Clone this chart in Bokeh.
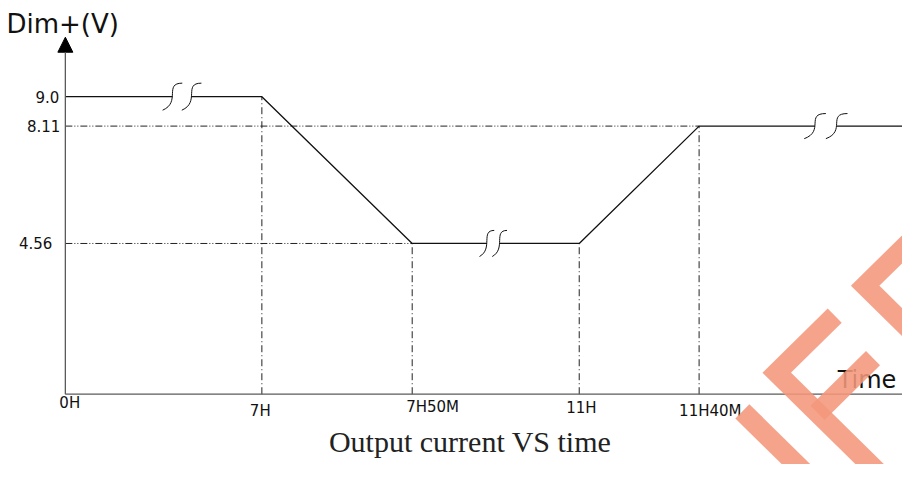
import numpy as np
from bokeh.plotting import figure
from bokeh.models import Range1d, Label, Arrow, NormalHead, ColumnDataSource
from bokeh.embed import file_html
from bokeh.resources import INLINE
from bokeh.core.properties import value

# ---------------- data ----------------
time_labels = ["0H", "7H", "7H50M", "11H", "11H40M"]
time_pos = [0, 200, 353, 523, 645]          # schematic positions on the broken time axis
dim_voltage = [9.0, 9.0, 4.56, 4.56, 8.11]   # Dim+ voltage at each time mark
end_pos = 880                                 # line keeps going past the last mark
volt_ticks = [9.0, 8.11, 4.56]
volt_labels = ["9.0", "8.11", "4.56"]

# ---------------- layout ----------------
W, H = 902, 464            # canvas
REF_W, REF_H = 918, 480    # drawing grid the layout constants refer to
ORIGIN_X = 66.0            # grid x of the origin
Y9 = 99.5                  # grid y of 9.0 V
PX_PER_V = 34.2            # grid px per volt

def rx(gx):  # grid x -> data x
    return gx - ORIGIN_X

def ry(gy):  # grid y -> data y
    return 9.0 - (gy - Y9) / PX_PER_V

p = figure(width=W, height=H, output_backend="svg", toolbar_location=None,
           x_range=Range1d(rx(0), rx(REF_W)),
           y_range=Range1d(ry(REF_H), ry(0)),
           min_border=0)
p.axis.visible = False
p.grid.visible = False
p.outline_line_color = None
p.background_fill_color = "white"
p.border_fill_color = "white"

AXIS_COLOR = "#5a5a5a"
INK = "#111111"

# guides (dash-dot) ------------------------------------------------
hx0, hx1, hy = [], [], []
for v in volt_ticks:
    first = next(t for t, d in zip(time_pos, dim_voltage) if d == v)
    if first > 0:
        hx0.append(0); hx1.append(first); hy.append(v)
p.segment(x0=hx0, y0=hy, x1=hx1, y1=hy, line_color="#222222", line_width=1,
          line_dash="7 2 1 2 1 2")
p.segment(x0=time_pos[1:], y0=[0] * (len(time_pos) - 1), x1=time_pos[1:], y1=dim_voltage[1:],
          line_color="#222222", line_width=1, line_dash="7 3 1 3")

# axes -------------------------------------------------------------
p.segment(x0=[0], y0=[0], x1=[end_pos], y1=[0], line_color=AXIS_COLOR, line_width=1.3)
p.add_layout(Arrow(end=NormalHead(size=15, fill_color="black", line_color="black"),
                   x_start=0, y_start=0, x_end=0, y_end=ry(38),
                   line_color=AXIS_COLOR, line_width=1.3))

# main line with axis breaks --------------------------------------
X = time_pos + [end_pos]
Y = dim_voltage + [dim_voltage[-1]]
breaks = {0: (109, 128.5, 20, 28), 2: (429, 442, 15, 27), 4: (763, 785, 22, 26)}
xs, ys = [], []
cur_x, cur_y = [X[0]], [Y[0]]
bz = dict(x0=[], y0=[], x1=[], y1=[], cx0=[], cy0=[], cx1=[], cy1=[])
for i in range(len(X) - 1):
    if i in breaks:
        bl, br, w, h = breaks[i]
        cur_x.append(bl); cur_y.append(Y[i])
        xs.append(cur_x); ys.append(cur_y)
        cur_x, cur_y = [br], [Y[i]]
        hv = h / PX_PER_V
        for c in (bl, br):
            bz["x0"].append(c - w / 2); bz["y0"].append(Y[i] - hv / 2)
            bz["cx0"].append(c + 0.45 * w); bz["cy0"].append(Y[i] - 0.2 * hv)
            bz["cx1"].append(c - 0.45 * w); bz["cy1"].append(Y[i] + 0.5 * hv)
            bz["x1"].append(c + w / 2); bz["y1"].append(Y[i] + hv / 2)
    cur_x.append(X[i + 1]); cur_y.append(Y[i + 1])
xs.append(cur_x); ys.append(cur_y)
p.multi_line(xs=xs, ys=ys, line_color=INK, line_width=1.3)
p.bezier(source=ColumnDataSource(bz), x0="x0", y0="y0", x1="x1", y1="y1",
         cx0="cx0", cy0="cy0", cx1="cx1", cy1="cy1", line_color=INK, line_width=1)

# tick labels ------------------------------------------------------
ysrc = ColumnDataSource(dict(x=[0] * 3, y=volt_ticks, t=volt_labels, dx=[-6, -5, -13]))
p.text(x="x", y="y", text="t", x_offset="dx", source=ysrc, text_align="right",
       text_baseline="middle", text_font=value("DejaVu Sans"), text_font_size="15px",
       text_color=INK)
xsrc = ColumnDataSource(dict(x=time_pos, y=[0] * 5, t=time_labels,
                             dx=[-6, -12, -6, -13, -20], dy=[0, 8, 4, 5, 8]))
p.text(x="x", y="y", text="t", x_offset="dx", y_offset="dy", source=xsrc, text_align="left",
       text_baseline="top", text_font=value("DejaVu Sans"), text_font_size="15px",
       text_color=INK)

# titles -----------------------------------------------------------
p.add_layout(Label(x=rx(6), y=ry(24.5), text="Dim+(V)", text_baseline="alphabetic",
                   text_font="DejaVu Sans", text_font_size="26px", text_color=INK))
p.add_layout(Label(x=rx(852), y=ry(392.5), text="Time", text_baseline="alphabetic",
                   text_font="DejaVu Sans", text_font_size="24px", text_color=INK))
p.add_layout(Label(x=rx(478), y=ry(456.5), text="Output current VS time", text_align="center",
                   text_baseline="alphabetic", text_font="Liberation Serif",
                   text_font_size="30px", text_color="#222222"))

# watermark strokes ------------------------------------------------
wm = [
    [(755, 425), (850, 520)],
    [(849, 326), (790, 385), (905, 500)],
    [(831.5, 426.5), (888, 370)],
    [(940, 235), (880, 295), (940, 355)],
]
p.multi_line(xs=[[rx(a) for a, b in s] for s in wm], ys=[[ry(b) for a, b in s] for s in wm],
             line_color="#F4977B", line_alpha=0.88, line_width=20,
             line_cap="butt", line_join="miter", level="overlay")

open("out.html", "w").write(file_html(p, INLINE))
